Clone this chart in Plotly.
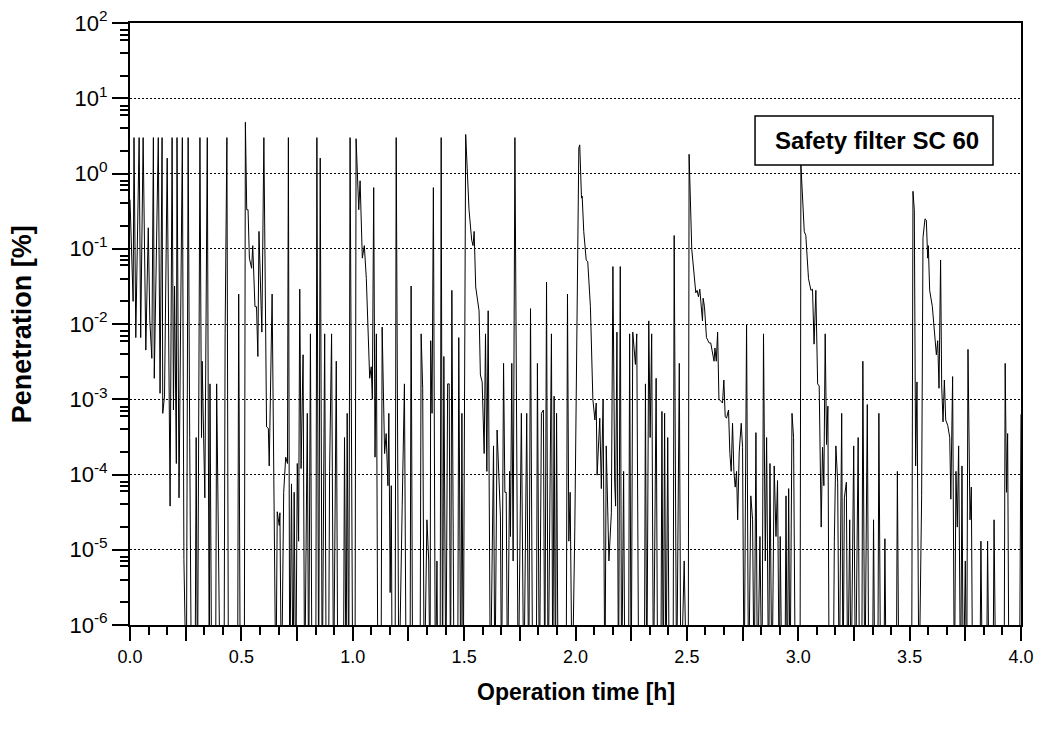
import plotly.graph_objects as go

# ---- data (time in h, penetration in %; 0 = below 1e-6 %) ----
seg_0_05 = [(0.000,0.45),(0.014,0.020),(0.018,3),(0.026,0.0066),(0.041,3),(0.048,0.0066),(0.059,3),(0.071,0.0045),
    (0.082,0.19),(0.089,0.011),(0.098,0.0035),(0.105,3),(0.109,0.0019),(0.127,3),(0.135,0.0012),(0.144,3),
    (0.147,0.00065),(0.155,0.0011),(0.167,1.6),(0.180,3.8e-5),(0.189,3),(0.195,0.00072),(0.200,0.032),
    (0.208,0.00014),(0.211,3),(0.220,4.9e-5),(0.235,3),(0.242,7.4e-6),(0.253,0),(0.261,3),(0.268,0.00031),
    (0.276,0),(0.292,0),(0.297,0.00031),(0.303,0),(0.314,3),(0.321,0.00031),(0.324,0.0032),(0.336,4.9e-5),
    (0.347,3),(0.356,0),(0.359,0.0016),(0.367,0),(0.384,0),(0.389,0.0016),(0.394,0.00012),(0.405,0),(0.422,0),
    (0.427,0.0074),(0.435,3),(0.442,0),(0.483,0),(0.488,0.025),(0.495,0),(0.513,0),(0.518,4.8)]

seg_05_10 = [(0.524,0.33),(0.530,0.33),(0.536,0.075),(0.546,0.055),(0.551,0.11),(0.561,0.017),(0.568,0.017),
    (0.574,0.0037),(0.579,0.17),(0.592,0.0078),(0.601,3),(0.613,0.00043),(0.621,0.00041),(0.625,0.00013),
    (0.638,0.025),(0.655,0),(0.661,3.2e-5),(0.670,2.1e-5),(0.673,3.1e-5),(0.680,0),(0.690,5.8e-5),(0.699,0.00017),
    (0.707,0.00014),(0.711,3),(0.717,0),(0.725,7.5e-5),(0.732,0),(0.737,5.8e-5),(0.744,0),(0.751,0.00014),
    (0.757,1.3e-5),(0.762,0.029),(0.768,0.00012),(0.777,0.0039),(0.784,0),(0.796,0.00065),(0.802,0),
    (0.810,0.0074),(0.817,0),(0.834,0),(0.839,3),(0.847,0),(0.854,1.6),(0.863,0),(0.874,0.0074),(0.881,0),
    (0.891,0),(0.896,0.00011),(0.905,0.0074),(0.914,0),(0.926,0.0032),(0.933,0),(0.958,0),(0.963,0.00031),
    (0.970,0),(0.975,0.00065),(0.982,0),(0.988,3),(1.000,0),(1.010,0),(1.015,2.9),(1.027,0.33),(1.033,0.8)]

seg_10_15 = [(1.043,0.075),(1.052,0.11),(1.061,0.040),(1.068,0.0091),(1.076,0.0019),(1.083,0.0027),(1.088,0.0010),
    (1.094,0.65),(1.100,0.00017),(1.106,0.0074),(1.113,0),(1.127,0),(1.132,0.0091),(1.143,0.00019),(1.150,0.00035),
    (1.158,7.1e-5),(1.162,0.00065),(1.168,2.7e-6),(1.173,7.1e-5),(1.177,0),(1.190,0),(1.195,3),(1.207,0),
    (1.222,3.8e-5),(1.232,0.0016),(1.240,0),(1.257,0),(1.262,0.032),(1.269,0),(1.302,0),(1.307,0.0074),
    (1.314,0.0014),(1.321,0),(1.333,2.5e-5),(1.341,7.1e-6),(1.347,0),(1.350,0.0060),(1.356,0.00065),(1.362,0.65),
    (1.371,0),(1.378,7.1e-6),(1.382,0),(1.392,0),(1.397,3),(1.403,0),(1.409,0.0037),(1.418,0),(1.426,0.0016),
    (1.433,0.0016),(1.439,0),(1.445,0.028),(1.455,0),(1.471,0),(1.476,0.0066),(1.485,0),(1.490,0.00065),
    (1.496,0),(1.507,3.3),(1.522,0.33),(1.534,0.13),(1.540,0.11),(1.545,0.17),(1.552,0.031),(1.567,0.015)]

seg_15_21 = [(1.573,0.0021),(1.581,0.0017),(1.590,0.00019),(1.596,0.0074),(1.602,0.00011),(1.608,0.015),(1.618,0),
    (1.632,0.00024),(1.638,0),(1.648,0.00039),(1.663,2.8e-5),(1.668,0),(1.677,0.0030),(1.683,5.8e-5),(1.689,5.8e-5),
    (1.695,0),(1.704,0.00011),(1.708,1.5e-5),(1.714,0.0030),(1.720,7.1e-6),(1.728,3),(1.743,0),(1.757,0.00065),
    (1.768,0),(1.781,0.00065),(1.790,0),(1.798,0.016),(1.808,0),(1.824,0),(1.829,0.0030),(1.838,0),
    (1.847,0.00065),(1.856,0.00072),(1.862,0),(1.870,0.036),(1.877,0),(1.892,0.0074),(1.898,0),(1.904,0.0011),
    (1.910,0),(1.915,0.00065),(1.922,0),(1.958,0),(1.964,0.025),(1.970,1.3e-5),(1.976,5.8e-5),(1.985,0),
    (1.997,2.0e-5),(2.003,0.00081),(2.015,2.2),(2.019,2.4),(2.027,0.47),(2.030,0.50),(2.037,0.17),(2.048,0.071),
    (2.055,0.067),(2.067,0.017),(2.078,0.0010),(2.087,0.00053),(2.093,0.00089),(2.097,9.8e-5)]

seg_21_26 = [(2.109,0.00056),(2.116,6.5e-5),(2.124,0.0010),(2.132,0),(2.138,0.00024),(2.150,7.1e-6),(2.161,3.1e-5),
    (2.168,0.058),(2.176,7.9e-5),(2.180,3.8e-5),(2.186,0.0078),(2.193,0),(2.201,0.058),(2.207,0),(2.216,0.00011),
    (2.222,0),(2.238,0),(2.243,0.0074),(2.250,0),(2.257,0.0078),(2.269,0.0029),(2.275,0.0074),(2.284,0),(2.309,0),
    (2.314,0.0016),(2.320,0),(2.329,0.011),(2.335,0.00031),(2.342,0.0074),(2.350,0),(2.362,0.0019),(2.369,0),
    (2.383,0),(2.388,0.00069),(2.394,0),(2.400,0.00065),(2.406,0),(2.414,0.00031),(2.421,0),(2.438,0),(2.443,0.15),
    (2.454,0),(2.466,0.0030),(2.473,0),(2.488,7.1e-6),(2.499,0),(2.506,0),(2.510,1.8),(2.522,0.098),(2.533,0.042),
    (2.540,0.026),(2.546,0.028),(2.552,0.023),(2.558,0.029),(2.564,0.017),(2.570,0.011),(2.573,0.022),
    (2.579,0.017),(2.588,0.0066),(2.600,0.0056),(2.607,0.0056),(2.615,0.0039),(2.622,0.0032),(2.626,0.0048),
    (2.632,0.0032),(2.638,0.0078),(2.644,0.0010)]

seg_26_32 = [(2.653,0.00094),(2.660,0.00089),(2.666,0.0018),(2.672,0.00059),(2.678,0.00056),(2.687,0.00072),
    (2.693,0.00019),(2.699,0.00011),(2.705,0.00048),(2.711,0.00011),(2.717,6.8e-5),(2.723,0.00011),(2.728,2.5e-5),
    (2.735,0.00020),(2.744,0.00048),(2.750,0.00023),(2.757,0),(2.768,0.010),(2.777,0),(2.787,5.2e-5),(2.795,2.5e-5),
    (2.802,0),(2.810,0.00036),(2.817,0),(2.828,1.5e-5),(2.837,0),(2.844,0.0074),(2.852,7.1e-6),(2.858,0.00031),
    (2.867,0),(2.873,0.00014),(2.882,0),(2.892,0.00013),(2.900,1.5e-5),(2.907,8.3e-5),(2.915,0),(2.919,1.5e-5),
    (2.927,0),(2.940,0),(2.945,5.2e-5),(2.951,0),(2.957,6.5e-5),(2.963,0),(2.972,0.00065),(2.979,0.00031),
    (2.987,0),(3.008,0),(3.012,1.3),(3.027,0.17),(3.034,0.15),(3.046,0.040),(3.057,0.028),(3.064,0.029),
    (3.071,0.0054),(3.079,0.028),(3.087,0.0016),(3.094,0.0015),(3.099,0.00011),(3.103,2.0e-5),(3.109,0.00023),
    (3.115,7.1e-5),(3.121,0.0074),(3.127,0.00025),(3.133,0.00081),(3.139,0),(3.157,0),(3.162,1.3e-5),
    (3.169,0.00024),(3.177,7.9e-5),(3.184,0)]

seg_32_37 = [(3.195,0.00065),(3.201,0),(3.207,4.9e-5),(3.216,7.9e-5),(3.222,0),(3.231,2.5e-5),(3.237,0),
    (3.249,0.00024),(3.257,0),(3.269,0.00031),(3.275,0),(3.285,0),(3.290,0.0032),(3.299,0),(3.310,0.00085),
    (3.317,0),(3.333,0),(3.338,2.5e-5),(3.344,0),(3.357,0),(3.362,0.00065),(3.370,0),(3.384,0),(3.389,1.4e-5),
    (3.395,0),(3.440,0),(3.445,0.00011),(3.452,0),(3.509,0),(3.515,0.58),(3.521,0.33),(3.527,0.00013),
    (3.533,0.0017),(3.542,0),(3.554,5.2e-5),(3.560,0.14),(3.569,0.25),(3.575,0.24),(3.581,0.075),(3.584,0.11),
    (3.590,0.028),(3.602,0.017),(3.614,0.0060),(3.620,0.0039),(3.626,0.0060),(3.632,0.0014),(3.639,0.071),
    (3.644,0.0015),(3.650,0.00050),(3.656,0.0018),(3.662,0.00053),(3.671,0.00045),(3.680,0.00031)]

seg_37_40 = [(3.685,4.7e-5),(3.693,0.0020),(3.701,0),(3.708,0.00011),(3.714,2.0e-5),(3.720,0.00024),(3.729,0),
    (3.735,0.00013),(3.741,0),(3.750,7.1e-6),(3.756,0),(3.762,0.0046),(3.771,2.5e-5),(3.777,6.8e-5),(3.783,0),
    (3.815,0),(3.820,1.3e-5),(3.827,0),(3.845,0),(3.850,1.3e-5),(3.857,0),(3.874,0),(3.879,2.5e-5),(3.887,0),
    (3.924,0),(3.929,0.0030),(3.935,5.8e-5),(3.940,0.00035),(3.946,0),(3.993,0),(4.000,0.00063)]

segments = [seg_0_05, seg_05_10, seg_10_15, seg_15_21, seg_21_26, seg_26_32, seg_32_37, seg_37_40]

y_tick_values = [1e-6, 1e-5, 1e-4, 1e-3, 1e-2, 1e-1, 1e0, 1e1, 1e2]
y_tick_labels = ["10<sup>-6</sup>", "10<sup>-5</sup>", "10<sup>-4</sup>", "10<sup>-3</sup>", "10<sup>-2</sup>",
                 "10<sup>-1</sup>", "10<sup>0</sup>", "10<sup>1</sup>", "10<sup>2</sup>"]
x_label_values = [0.0, 0.5, 1.0, 1.5, 2.0, 2.5, 3.0, 3.5, 4.0]
annotation_text = "<b>Safety filter SC 60</b>"

# ---- build series ----
BELOW_RANGE = 1e-7  # zero readings drawn below the axis floor (clipped)
time_h, penetration = [], []
for seg in segments:
    for t, p in seg:
        time_h.append(t)
        penetration.append(p if p > 0 else BELOW_RANGE)

FONT = "Arial, 'Liberation Sans', Helvetica, sans-serif"

fig = go.Figure()
fig.add_trace(go.Scatter(x=time_h, y=penetration, mode="lines",
                         line=dict(color="black", width=1), hoverinfo="skip"))

major_x = [i * 0.25 for i in range(17)]
major_x_text = [f"{v:.1f}" if any(abs(v - l) < 1e-9 for l in x_label_values) else "" for v in major_x]
minor_x = [i / 12 for i in range(49) if i % 3 != 0]
minor_y = [m * 10.0 ** e for e in range(-6, 2) for m in (2, 4, 6, 7, 8)]

fig.update_layout(
    width=1047, height=738,
    margin=dict(l=130, r=26, t=23, b=113, autoexpand=False),
    plot_bgcolor="white", paper_bgcolor="white",
    showlegend=False,
    font=dict(family=FONT, color="black"),
)

fig.update_xaxes(
    range=[0, 4], tickmode="array", tickvals=major_x, ticktext=major_x_text,
    ticks="outside", ticklen=14, tickwidth=2, tickcolor="black",
    showline=True, linewidth=2, linecolor="black", mirror=True,
    showgrid=False, zeroline=False, automargin=False,
    tickfont=dict(size=18, family=FONT),
    minor=dict(tickmode="array", tickvals=minor_x, ticks="outside", ticklen=8,
               tickwidth=2, tickcolor="black", showgrid=False),
)

fig.update_yaxes(
    type="log", range=[-6, 2], tickmode="array", tickvals=y_tick_values, ticktext=y_tick_labels,
    ticks="outside", ticklen=16, tickwidth=2, tickcolor="black",
    showline=True, linewidth=2, linecolor="black", mirror=True,
    showgrid=True, gridcolor="black", gridwidth=1, griddash="2px,2px",
    zeroline=False, automargin=False,
    tickfont=dict(size=22, family=FONT),
    minor=dict(tickmode="array", tickvals=minor_y, ticks="outside", ticklen=8,
               tickwidth=2, tickcolor="black", showgrid=False),
)

# axis titles
fig.add_annotation(text="<b>Operation time [h]</b>", xref="paper", yref="paper",
                   x=0.5, y=-0.111, xanchor="center", yanchor="middle", showarrow=False,
                   font=dict(size=23, family=FONT, color="black"))
fig.add_annotation(text="<b>Penetration [%]</b>", xref="paper", yref="paper",
                   x=-0.121, y=0.5, xanchor="center", yanchor="middle", textangle=-90, showarrow=False,
                   font=dict(size=27, family=FONT, color="black"))

# label box
fig.add_shape(type="rect", xref="paper", yref="paper", x0=0.7015, x1=0.9686, y0=0.7641, y1=0.8455,
              line=dict(color="black", width=1.5), fillcolor="white", layer="above")
fig.add_annotation(text=annotation_text, xref="paper", yref="paper", x=0.838, y=0.8048,
                   xanchor="center", yanchor="middle", showarrow=False,
                   font=dict(size=24, family=FONT, color="black"))

fig.write_html("out.html")
